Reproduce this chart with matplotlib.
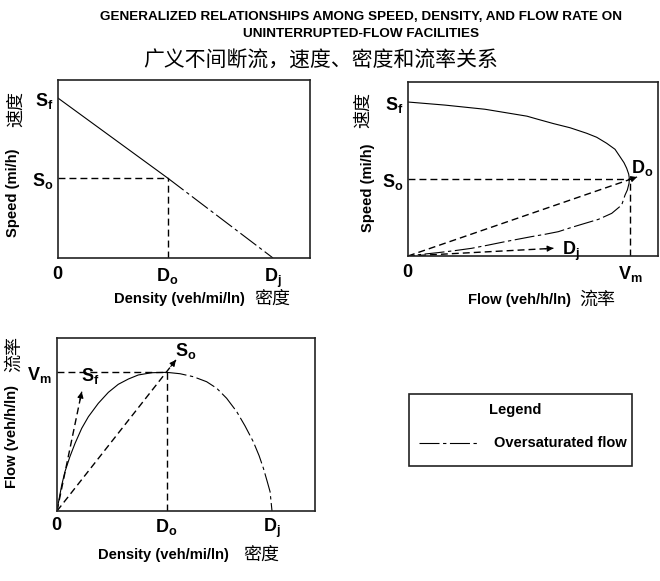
import matplotlib
matplotlib.use("Agg")
import matplotlib.pyplot as plt
from matplotlib.patches import Rectangle
from matplotlib.lines import Line2D


# -------------------------------------------------------
# Values
# -------------------------------------------------------

SF = 100.0      # free-flow speed
SO = 50.0       # speed at capacity
DO = 51.0       # density at capacity
DJ = 100.0      # jam density
VM = 2500.0     # capacity flow

# speed vs density (straight line)
sd_dens_under = [0.0, DO]
sd_speed_under = [SF, SO]
sd_dens_over = [DO, DJ]
sd_speed_over = [SO, 0.0]

# speed vs flow
sf_flow_under = [0, 417, 867, 1340, 1449, 1637, 1824, 2012, 2125, 2237,
                 2331, 2387, 2432, 2462, 2485, 2492]
sf_speed_under = [100, 98, 95.3, 90.8, 89, 86, 83.3, 79.7, 77.1, 73.2,
                  69.3, 64.5, 60.6, 57, 53.2, 50.4]
sf_flow_over = [2492, 2489, 2470, 2444, 2406, 2294, 2144, 1993, 1843, 1693,
                1543, 1393, 1092, 905, 717, 529, 341, 79, 0]
sf_speed_over = [50.4, 47.2, 42.9, 39.6, 33.1, 27.7, 23.8, 21.2, 18.6, 15.8,
                 14.1, 12.6, 9.3, 7.1, 5, 3.5, 2.2, 0.6, 0]

# flow vs density
fd_dens_under = [0, 0.6, 2.2, 3.7, 6, 8.4, 11.5, 14.6, 19.2, 23.9, 28.5,
                 33.2, 37.8, 44, 51]
fd_flow_under = [0, 139, 471, 712, 984, 1226, 1498, 1708, 1950, 2150, 2295,
                 2391, 2464, 2505, 2512]
fd_dens_over = [51, 57.2, 63.4, 69.6, 74.3, 78.9, 83.6, 87.4, 91.3, 94, 96,
                97.8, 99.1, 100]
fd_flow_over = [2512, 2487, 2433, 2342, 2223, 2042, 1799, 1545, 1255, 1002,
                774, 531, 350, 0]
VM_PEAK = 2512

# dashed guide arrows (start, tip)
arrow_do_flow = [(0, 0), (2579, 51.3)]
arrow_dj_flow = [(0, 0), (1637, 5.0)]
arrow_so_dens = [(0, 0), (55.3, 2736)]
arrow_sf_dens = [(0, 0), (11.5, 2161)]


# -------------------------------------------------------
# Style
# -------------------------------------------------------

plt.rcParams["font.family"] = ["Liberation Sans", "Noto Sans CJK SC"]
plt.rcParams["mathtext.fontset"] = "custom"
plt.rcParams["mathtext.rm"] = "Liberation Sans"
plt.rcParams["mathtext.it"] = "Liberation Sans:italic"
plt.rcParams["mathtext.bf"] = "Liberation Sans:bold"

W, H = 660, 581
CJK = "Noto Sans CJK SC"
LABEL_FS = 10.6

OVER = (0, (18, 3.2, 3, 3.2))
DASH = (0, (5, 2.9))


def px_axes(fig, left, top, right, bottom):
    return fig.add_axes([left / W, 1 - bottom / H, (right - left) / W, (bottom - top) / H])


def ftext(fig, x, y, s, **kw):
    kw.setdefault("ha", "center")
    kw.setdefault("va", "center")
    fig.text(x / W, 1 - y / H, s, **kw)


def style_axes(ax):
    for sp in ax.spines.values():
        sp.set_linewidth(1.2)
        sp.set_color("#222222")
    ax.tick_params(length=0, labelsize=13)


def dashed_arrow(ax, pts):
    (x0, y0), (x1, y1) = pts
    ax.plot([x0, x1], [y0, y1], color="k", lw=1.0, linestyle=DASH)
    a = ax.transData.transform((x0, y0))
    b = ax.transData.transform((x1, y1))
    d = (b - a) / ((b - a) ** 2).sum() ** 0.5
    ax.annotate("", xy=(x1, y1), xytext=(-d[0] * 6, -d[1] * 6),
                textcoords="offset points",
                arrowprops=dict(arrowstyle="-|>", color="k", lw=0.8,
                                mutation_scale=9, shrinkA=0, shrinkB=0))


fig = plt.figure(figsize=(6.6, 5.81), dpi=100)

ftext(fig, 361, 17, "GENERALIZED RELATIONSHIPS AMONG SPEED, DENSITY, AND FLOW RATE ON",
      fontsize=9.7, fontweight="bold")
ftext(fig, 361, 34, "UNINTERRUPTED-FLOW FACILITIES", fontsize=9.7, fontweight="bold")
ftext(fig, 321, 61, "广义不间断流，速度、密度和流率关系", fontsize=15, family=[CJK])


# -------------------------------------------------------
# Speed vs density
# -------------------------------------------------------

ax1 = px_axes(fig, 58, 80, 310, 258)
style_axes(ax1)
ax1.set_xlim(0, 117.2)
ax1.set_ylim(0, 111.3)
ax1.plot(sd_dens_under, sd_speed_under, color="k", lw=0.8)
ax1.plot(sd_dens_over, sd_speed_over, color="k", lw=0.8, linestyle=OVER)
ax1.plot([0, DO], [SO, SO], color="k", lw=1.0, linestyle=DASH)
ax1.plot([DO, DO], [0, SO], color="k", lw=1.0, linestyle=DASH)
ax1.set_xticks([0, DO, DJ], [r"$\mathbf{0}$", r"$\mathbf{D_o}$", r"$\mathbf{D_j}$"])
ax1.set_yticks([SF, SO], [r"$\mathbf{S_f}$", r"$\mathbf{S_o}$"])
ax1.tick_params(axis="x", pad=6)
ax1.tick_params(axis="y", pad=3)

ftext(fig, 179, 299, "Density (veh/mi/ln)", fontsize=LABEL_FS, fontweight="bold")
ftext(fig, 272, 299, "密度", fontsize=13, family=[CJK])
ftext(fig, 13, 193, "Speed (mi/h)", fontsize=LABEL_FS, fontweight="bold", rotation=90)
ftext(fig, 16, 109, "速度", fontsize=13, family=[CJK], rotation=90)


# -------------------------------------------------------
# Speed vs flow
# -------------------------------------------------------

ax2 = px_axes(fig, 408, 82, 658, 256)
style_axes(ax2)
ax2.set_xlim(0, 2815)
ax2.set_ylim(0, 113)
ax2.plot(sf_flow_under, sf_speed_under, color="k", lw=0.8)
ax2.plot(sf_flow_over, sf_speed_over, color="k", lw=0.8, linestyle=OVER)
ax2.plot([0, VM], [SO, SO], color="k", lw=1.0, linestyle=DASH)
ax2.plot([VM, VM], [0, SO], color="k", lw=1.0, linestyle=DASH)
dashed_arrow(ax2, arrow_do_flow)
dashed_arrow(ax2, arrow_dj_flow)
ax2.text(2635, 57, r"$\mathbf{D_o}$", fontsize=13, ha="center", va="center")
ax2.text(1836, 3.2, r"$\mathbf{D_j}$", fontsize=13, ha="center", va="center")
ax2.set_xticks([0, VM], [r"$\mathbf{0}$", r"$\mathbf{V_m}$"])
ax2.set_yticks([SF, SO], [r"$\mathbf{S_f}$", r"$\mathbf{S_o}$"])
ax2.tick_params(axis="x", pad=6)
ax2.tick_params(axis="y", pad=3)

ftext(fig, 519, 300, "Flow (veh/h/ln)", fontsize=LABEL_FS, fontweight="bold")
ftext(fig, 597, 300, "流率", fontsize=13, family=[CJK])
ftext(fig, 368, 188, "Speed (mi/h)", fontsize=LABEL_FS, fontweight="bold", rotation=90)
ftext(fig, 363, 110, "速度", fontsize=13, family=[CJK], rotation=90)


# -------------------------------------------------------
# Flow vs density
# -------------------------------------------------------

ax3 = px_axes(fig, 57, 338, 315, 511)
style_axes(ax3)
ax3.set_xlim(0, 120)
ax3.set_ylim(0, 3134)
ax3.plot(fd_dens_under, fd_flow_under, color="k", lw=0.8)
ax3.plot(fd_dens_over, fd_flow_over, color="k", lw=0.8, linestyle=OVER)
ax3.plot([0, DO], [VM_PEAK, VM_PEAK], color="k", lw=1.0, linestyle=DASH)
ax3.plot([DO, DO], [0, VM_PEAK], color="k", lw=1.0, linestyle=DASH)
dashed_arrow(ax3, arrow_so_dens)
dashed_arrow(ax3, arrow_sf_dens)
ax3.text(60, 2899, r"$\mathbf{S_o}$", fontsize=13, ha="center", va="center")
ax3.text(15.3, 2446, r"$\mathbf{S_f}$", fontsize=13, ha="center", va="center")
ax3.set_xticks([0, DO, DJ], [r"$\mathbf{0}$", r"$\mathbf{D_o}$", r"$\mathbf{D_j}$"])
ax3.set_yticks([VM_PEAK], [r"$\mathbf{V_m}$"])
ax3.tick_params(axis="x", pad=4)
ax3.tick_params(axis="y", pad=4)

ftext(fig, 163, 555, "Density (veh/mi/ln)", fontsize=LABEL_FS, fontweight="bold")
ftext(fig, 261, 555, "密度", fontsize=13, family=[CJK])
ftext(fig, 12, 437, "Flow (veh/h/ln)", fontsize=LABEL_FS, fontweight="bold", rotation=90)
ftext(fig, 14, 354, "流率", fontsize=13, family=[CJK], rotation=90)


# -------------------------------------------------------
# Legend box
# -------------------------------------------------------

fig.add_artist(Rectangle((409 / W, 1 - 466 / H), 223 / W, 72 / H,
                         transform=fig.transFigure, fill=False, lw=1.2, ec="#222222"))
ftext(fig, 515, 410, "Legend", fontsize=10.5, fontweight="bold")
fig.add_artist(Line2D([419 / W, 478 / W], [1 - 443 / H, 1 - 443 / H],
                      transform=fig.transFigure, color="k", lw=0.8, linestyle=OVER))
ftext(fig, 494, 443, "Oversaturated flow", fontsize=10.5, fontweight="bold", ha="left")

fig.savefig("out.png", dpi=100)
